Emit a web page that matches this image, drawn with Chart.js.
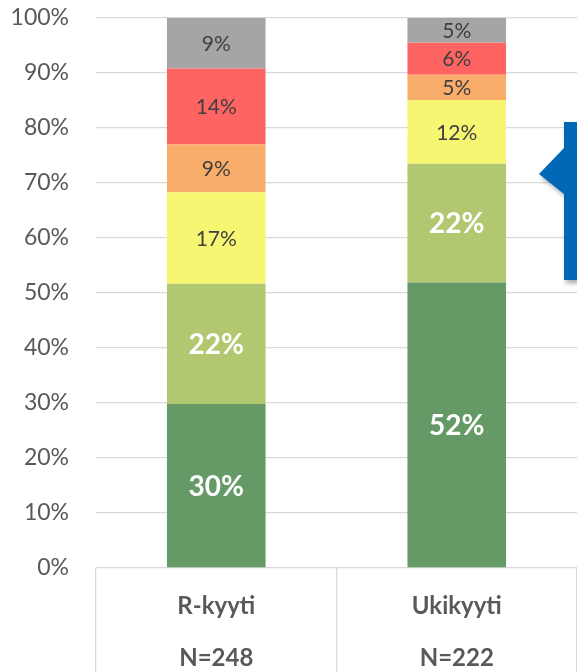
<!DOCTYPE html>
<html>
<head>
<meta charset="utf-8">
<script src="https://cdn.jsdelivr.net/npm/chart.js@4"></script>
<style>
  html, body { margin: 0; padding: 0; background: #fff; }
  #wrap { width: 577px; height: 672px; }
</style>
</head>
<body>
<div id="wrap"><canvas id="chart" width="577" height="672"></canvas></div>
<script>
// categories (two label rows each)
const groups = [['R-kyyti', 'N=248'], ['Ukikyyti', 'N=222']];

// shares in %, bottom to top
const darkGreen  = [29.8, 51.9];
const lightGreen = [21.9, 21.6];
const yellow     = [16.6, 11.6];
const orange     = [8.7, 4.6];
const red        = [13.8, 5.8];
const grey       = [9.2, 4.5];

const yTicks = [0, 10, 20, 30, 40, 50, 60, 70, 80, 90, 100];

const FONT = 'Lato, "Open Sans", sans-serif';

// values written inside each segment
const segmentLabels = {
    id: 'segmentLabels',
    afterDatasetsDraw(chart) {
        const ctx = chart.ctx;
        ctx.save();
        ctx.textAlign = 'center';
        ctx.textBaseline = 'middle';
        chart.data.datasets.forEach((ds, i) => {
            const meta = chart.getDatasetMeta(i);
            const big = i < 2;
            ctx.font = (big ? 'bold 28px ' : '21px ') + FONT;
            ctx.fillStyle = big ? '#ffffff' : '#404040';
            meta.data.forEach((bar, j) => {
                const y = (bar.y + bar.base) / 2;
                ctx.fillText(Math.round(ds.data[j]) + '%', bar.x, y + 1);
            });
        });
        ctx.restore();
    }
};

// blue callout arrow at the right edge
const calloutArrow = {
    id: 'calloutArrow',
    afterDraw(chart) {
        const ctx = chart.ctx;
        ctx.save();
        ctx.shadowColor = 'rgba(0,0,0,0.35)';
        ctx.shadowBlur = 5;
        ctx.shadowOffsetX = 2;
        ctx.shadowOffsetY = 3;
        ctx.fillStyle = '#0068B5';
        ctx.beginPath();
        ctx.moveTo(564, 122);
        ctx.lineTo(590, 122);
        ctx.lineTo(590, 280);
        ctx.lineTo(564, 280);
        ctx.lineTo(564, 194);
        ctx.lineTo(539, 174);
        ctx.lineTo(564, 148);
        ctx.closePath();
        ctx.fill();
        ctx.restore();
    }
};

const ctx = document.getElementById('chart').getContext('2d');
new Chart(ctx, {
    type: 'bar',
    data: {
        labels: groups,
        datasets: [
            { data: darkGreen,  backgroundColor: '#659A66' },
            { data: lightGreen, backgroundColor: '#B1C870' },
            { data: yellow,     backgroundColor: '#F7F672' },
            { data: orange,     backgroundColor: '#F9AD6B' },
            { data: red,        backgroundColor: '#FE6461' },
            { data: grey,       backgroundColor: '#A5A5A5' }
        ]
    },
    options: {
        responsive: false,
        animation: false,
        events: [],
        layout: { padding: { top: 18, right: 0, left: 0, bottom: 0 } },
        datasets: {
            bar: { categoryPercentage: 1, barPercentage: 0.41, borderWidth: 0 }
        },
        plugins: {
            legend: { display: false },
            tooltip: { enabled: false }
        },
        scales: {
            x: {
                stacked: true,
                border: { display: false },
                grid: {
                    offset: true,
                    drawOnChartArea: false,
                    drawTicks: true,
                    tickLength: 104,
                    color: '#D9D9D9',
                    lineWidth: 1.3
                },
                ticks: {
                    padding: -92,
                    color: '#595959',
                    maxRotation: 0,
                    font: { family: FONT, size: 24, weight: 'bold', lineHeight: 52 / 24 }
                },
                afterFit(scale) {
                    scale.height = 104;
                    scale.paddingLeft = 0;
                    scale.paddingRight = 0;
                }
            },
            y: {
                stacked: true,
                min: 0,
                max: 100,
                border: { display: false },
                grid: { color: '#D9D9D9', lineWidth: 1.3, drawTicks: false },
                afterBuildTicks(scale) { scale.ticks = yTicks.map(v => ({ value: v })); },
                ticks: {
                    padding: 27,
                    color: '#595959',
                    font: { family: FONT, size: 23 },
                    callback: v => v + '%'
                },
                afterFit(scale) {
                    scale.width = 96;
                    scale.paddingTop = 0;
                    scale.paddingBottom = 0;
                }
            }
        }
    },
    plugins: [segmentLabels, calloutArrow]
});
</script>
</body>
</html>
